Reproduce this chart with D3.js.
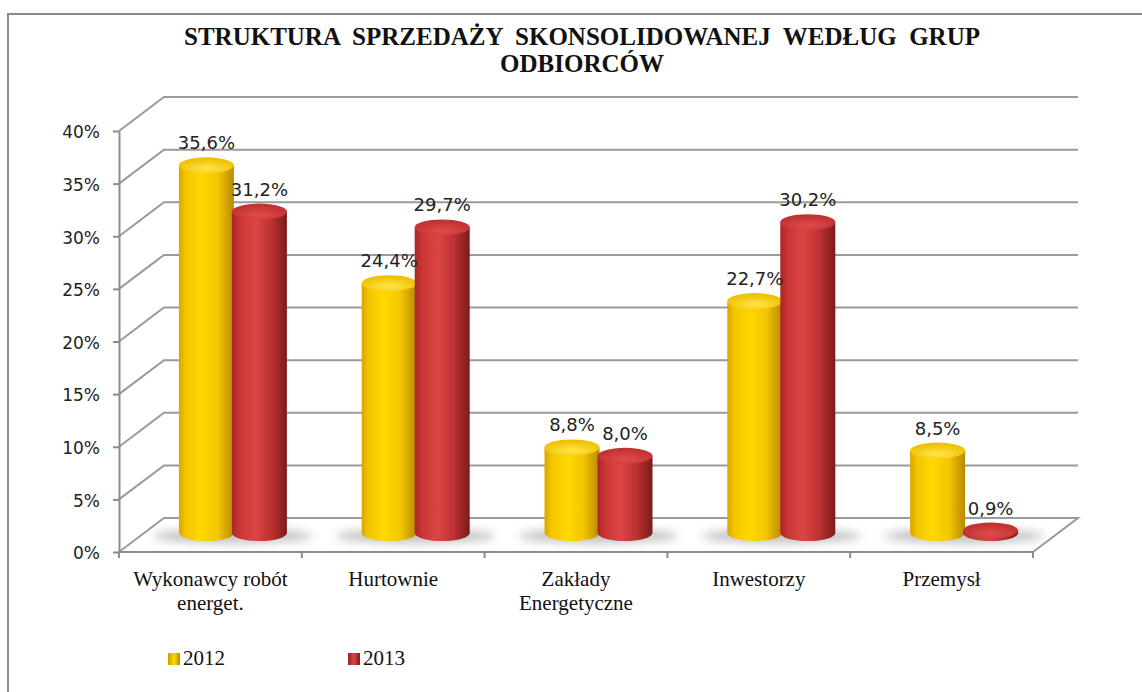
<!DOCTYPE html>
<html>
<head>
<meta charset="utf-8">
<script src="https://cdn.jsdelivr.net/npm/d3@7"></script>
<style>
  body { margin: 0; background: #fff; }
  svg { display: block; }
</style>
</head>
<body>
<div id="chart"></div>
<script>
// values
const categories = ["Wykonawcy robót energet.", "Hurtownie", "Zakłady Energetyczne", "Inwestorzy", "Przemysł"];
const categoryLines = [["Wykonawcy robót", "energet."], ["Hurtownie"], ["Zakłady", "Energetyczne"], ["Inwestorzy"], ["Przemysł"]];
const seriesNames = ["2012", "2013"];
const values2012 = [35.6, 24.4, 8.8, 22.7, 8.5];
const values2013 = [31.2, 29.7, 8.0, 30.2, 0.9];
const yTicks = [0, 5, 10, 15, 20, 25, 30, 35, 40];
const titleLines = ["STRUKTURA  SPRZEDAŻY  SKONSOLIDOWANEJ  WEDŁUG  GRUP", "ODBIORCÓW"];

const W = 1142, H = 692;
const depthX = 45, depthY = -34;

const svg = d3.select("#chart").append("svg")
    .attr("width", W)
    .attr("height", H);

const defs = svg.append("defs");

// gradients for the cylinders
function sideGradient(id, stops) {
    const g = defs.append("linearGradient").attr("id", id)
        .attr("x1", "0%").attr("x2", "100%").attr("y1", "0%").attr("y2", "0%");
    stops.forEach(s => g.append("stop").attr("offset", s[0]).attr("stop-color", s[1]));
}
sideGradient("yellowSide", [["0%", "#d7a600"], ["12%", "#f2c400"], ["40%", "#ffd800"], ["70%", "#f4c600"], ["100%", "#b98a00"]]);
sideGradient("redSide", [["0%", "#aa2626"], ["15%", "#cb3636"], ["42%", "#dc4545"], ["72%", "#bb3131"], ["100%", "#7c1a1a"]]);

function capGradient(id, inner, outer) {
    const g = defs.append("radialGradient").attr("id", id)
        .attr("cx", "50%").attr("cy", "70%").attr("r", "60%");
    g.append("stop").attr("offset", "0%").attr("stop-color", inner);
    g.append("stop").attr("offset", "100%").attr("stop-color", outer);
}
capGradient("yellowCap", "#ffe54a", "#eec000");
capGradient("redCap", "#e04c4c", "#c03131");

sideGradient("yellowKey", [["0%", "#c99c00"], ["50%", "#ffd900"], ["100%", "#b88a00"]]);
sideGradient("redKey", [["0%", "#9c2222"], ["50%", "#d84444"], ["100%", "#7f1b1b"]]);

defs.append("filter").attr("id", "blur")
    .attr("x", "-50%").attr("y", "-200%").attr("width", "200%").attr("height", "500%")
    .append("feGaussianBlur").attr("stdDeviation", 5);

// frame around the chart
svg.append("rect")
    .attr("x", 8).attr("y", 14)
    .attr("width", W + 20).attr("height", H + 20)
    .attr("fill", "none")
    .attr("stroke", "#8c8c8c")
    .attr("stroke-width", 2);

const x = d3.scaleBand()
    .domain(categories)
    .range([119, 1033]);

const y = d3.scaleLinear()
    .domain([0, 40])
    .range([552, 131]);

const inner = d3.scaleBand()
    .domain(seriesNames)
    .range([-53, 53]);

const gridColor = "#9a9a9a";

// floor
const x0 = x.range()[0], x1 = x.range()[1];
svg.append("path")
    .attr("d", `M${x0},${y(0)} L${x0 + depthX},${y(0) + depthY} L${x1 + depthX},${y(0) + depthY} L${x1},${y(0)} Z`)
    .attr("fill", "#fff")
    .attr("stroke", gridColor)
    .attr("stroke-width", 2);

// gridlines on the left and back walls
svg.append("g")
    .selectAll("path")
    .data(yTicks.filter(d => d > 0))
    .enter()
    .append("path")
        .attr("d", d => `M${x0},${y(d)} L${x0 + depthX},${y(d) + depthY} L${x1 + depthX},${y(d) + depthY}`)
        .attr("fill", "none")
        .attr("stroke", gridColor)
        .attr("stroke-width", 2);

// soft shadows under the bars
svg.append("g")
    .selectAll("ellipse")
    .data(categories)
    .enter()
    .append("ellipse")
        .attr("cx", d => x(d) + x.bandwidth() / 2 + depthX / 2)
        .attr("cy", y(0) + depthY / 2 + 1)
        .attr("rx", 80)
        .attr("ry", 7)
        .attr("fill", "#777")
        .attr("opacity", 0.45)
        .attr("filter", "url(#blur)");

// bars as cylinders
const bars = [];
categories.forEach((c, i) => {
    bars.push({ cat: c, series: "2012", value: values2012[i] });
    bars.push({ cat: c, series: "2013", value: values2013[i] });
});

const rx = 27.5, ry = 8;
const cxOf = d => x(d.cat) + x.bandwidth() / 2 + depthX / 2 + inner(d.series) + inner.bandwidth() / 2;
const yBottom = y(0) + depthY / 2 - 2;
const yTop = d => y(d.value) + depthY / 2 + 5;

const barG = svg.append("g")
    .selectAll("g")
    .data(bars)
    .enter()
    .append("g");

barG.append("path")
    .attr("d", d => {
        const cx = cxOf(d), t = yTop(d);
        return `M${cx - rx},${t} L${cx - rx},${yBottom} A${rx},${ry} 0 0 0 ${cx + rx},${yBottom} L${cx + rx},${t} Z`;
    })
    .attr("fill", d => d.series === "2012" ? "url(#yellowSide)" : "url(#redSide)");

barG.append("ellipse")
    .attr("cx", cxOf)
    .attr("cy", yTop)
    .attr("rx", rx)
    .attr("ry", ry)
    .attr("fill", d => d.series === "2012" ? "url(#yellowCap)" : "url(#redCap)");

// value labels
svg.append("g")
    .selectAll("text")
    .data(bars)
    .enter()
    .append("text")
        .attr("x", cxOf)
        .attr("y", d => yTop(d) - ry - 8)
        .attr("text-anchor", "middle")
        .style("font-family", "'DejaVu Sans', Verdana, sans-serif")
        .style("font-size", "18px")
        .style("fill", "#222")
        .text(d => d.value.toFixed(1).replace(".", ",") + "%");

// y axis
const yAxis = svg.append("g")
    .attr("transform", `translate(${x0},0)`)
    .call(d3.axisLeft(y)
        .tickValues(yTicks)
        .tickFormat(d => d + "%")
        .tickSize(6)
        .tickSizeOuter(0)
        .tickPadding(13));
yAxis.select(".domain").attr("stroke", "#8c8c8c").attr("stroke-width", 2);
yAxis.selectAll(".tick line").attr("stroke", "#8c8c8c").attr("stroke-width", 2);
yAxis.selectAll(".tick text")
    .attr("dy", "0.4em")
    .style("font-family", "'DejaVu Sans', Verdana, sans-serif")
    .style("font-size", "17px")
    .style("fill", "#222");

// x axis line and ticks between categories
svg.append("line")
    .attr("x1", x0).attr("x2", x1)
    .attr("y1", y(0)).attr("y2", y(0))
    .attr("stroke", "#8c8c8c")
    .attr("stroke-width", 2);

svg.append("g")
    .selectAll("line")
    .data(categories.map(c => x(c)).concat([x1]))
    .enter()
    .append("line")
        .attr("x1", d => d).attr("x2", d => d)
        .attr("y1", y(0)).attr("y2", y(0) + 6)
        .attr("stroke", "#8c8c8c")
        .attr("stroke-width", 2);

// category labels
const catLabels = svg.append("g")
    .selectAll("text")
    .data(categories)
    .enter()
    .append("text")
        .attr("text-anchor", "middle")
        .style("font-family", "'Liberation Serif', 'Times New Roman', serif")
        .style("font-size", "21px")
        .style("fill", "#111");
catLabels.each(function (d, i) {
    d3.select(this).selectAll("tspan")
        .data(categoryLines[i])
        .enter()
        .append("tspan")
            .attr("x", x(d) + x.bandwidth() / 2)
            .attr("y", (t, j) => 586 + j * 24)
            .text(t => t);
});

// legend
const legend = svg.append("g")
    .selectAll("g")
    .data(seriesNames)
    .enter()
    .append("g")
        .attr("transform", (d, i) => `translate(${168 + i * 180},653)`);
legend.append("rect")
    .attr("width", 12).attr("height", 12)
    .attr("fill", d => d === "2012" ? "url(#yellowKey)" : "url(#redKey)");
legend.append("text")
    .attr("x", 15)
    .attr("y", 12)
    .style("font-family", "'Liberation Serif', 'Times New Roman', serif")
    .style("font-size", "21px")
    .style("fill", "#111")
    .text(d => d);

// title
svg.append("g")
    .selectAll("text")
    .data(titleLines)
    .enter()
    .append("text")
        .attr("x", 582)
        .attr("y", (d, i) => 45 + i * 27)
        .attr("text-anchor", "middle")
        .style("font-family", "'Liberation Serif', 'Times New Roman', serif")
        .style("font-weight", "bold")
        .style("font-size", "25px")
        .style("white-space", "pre")
        .style("fill", "#111")
        .text(d => d);
</script>
</body>
</html>
